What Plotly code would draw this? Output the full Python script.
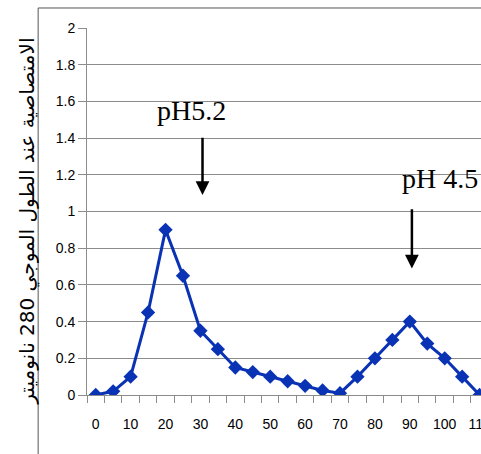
import plotly.graph_objects as go

# Data
x_vals = [0, 5, 10, 15, 20, 25, 30, 35, 40, 45, 50, 55, 60, 65, 70, 75, 80, 85, 90, 95, 100, 105, 110]
y_vals = [0, 0.02, 0.1, 0.45, 0.9, 0.65, 0.35, 0.25, 0.15, 0.125, 0.1, 0.075, 0.05, 0.025, 0.01,
          0.1, 0.2, 0.3, 0.4, 0.28, 0.2, 0.1, 0]
x_tick_vals = [0, 10, 20, 30, 40, 50, 60, 70, 80, 90, 100, 110]
y_title = "الامتصاصية عند الطول الموجي 280 نانوميتر"
labels = ["pH5.2", "pH 4.5"]

blue = "#0A32B4"
grid = "#8C8C8C"

fig = go.Figure()
fig.add_trace(go.Scatter(
    x=x_vals, y=y_vals, mode="lines+markers",
    line=dict(color=blue, width=3),
    marker=dict(symbol="diamond", size=11, color=blue),
    showlegend=False,
))

fig.update_layout(
    width=481, height=454,
    margin=dict(l=87, r=0, t=28, b=59),
    paper_bgcolor="white", plot_bgcolor="white",
    xaxis=dict(
        range=[-2.5, 110.4], tickmode="array", tickvals=x_tick_vals,
        ticks="outside", ticklen=16, tickcolor="rgba(0,0,0,0)",
        showgrid=False, zeroline=False, showline=True, linecolor=grid, linewidth=1,
        tickfont=dict(family="Liberation Sans", size=14, color="black"),
        ticklabeloverflow="allow", automargin=False,
        minor=dict(ticks="outside", ticklen=7, tickcolor=grid, tick0=2.5, dtick=5, showgrid=False),
    ),
    yaxis=dict(
        range=[0, 2], dtick=0.2, tick0=0,
        ticks="outside", ticklen=8, tickcolor=grid,
        showgrid=True, gridcolor=grid, gridwidth=1,
        zeroline=False, showline=True, linecolor=grid, linewidth=1,
        tickfont=dict(family="Liberation Sans", size=14, color="black"),
        automargin=False,
    ),
)

# y-axis title as rotated text
fig.add_annotation(x=-0.19, y=0.474, xref="paper", yref="paper", text=y_title, showarrow=False,
                   textangle=-90, font=dict(family="DejaVu Sans", size=20, color="black"))

# annotations text
fig.add_annotation(x=27.3, y=1.55, text=labels[0], showarrow=False,
                   font=dict(family="Liberation Serif", size=28, color="black"))
fig.add_annotation(x=98.6, y=1.18, text=labels[1], showarrow=False,
                   font=dict(family="Liberation Serif", size=28, color="black"))
# arrows
fig.add_annotation(x=30.6, y=1.09, ax=30.6, ay=1.41, axref="x", ayref="y", xref="x", yref="y",
                   text="", showarrow=True, arrowhead=2, arrowsize=1.1, arrowwidth=2.5, arrowcolor="black")
fig.add_annotation(x=90.6, y=0.69, ax=90.6, ay=1.02, axref="x", ayref="y", xref="x", yref="y",
                   text="", showarrow=True, arrowhead=2, arrowsize=1.1, arrowwidth=2.5, arrowcolor="black")

# chart frame
fig.add_shape(type="rect", xref="paper", yref="paper", x0=-0.124, x1=1.2, y0=-0.4, y1=1.0545,
              line=dict(color="#555555", width=1))

fig.write_html("out.html")
